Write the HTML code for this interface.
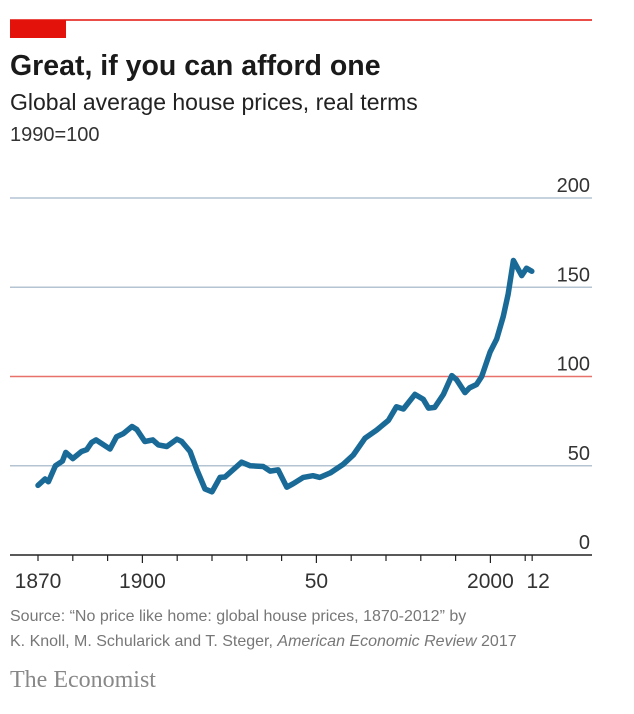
<!DOCTYPE html>
<html><head><meta charset="utf-8"><style>
body{margin:0;background:#fff;width:634px;height:714px;overflow:hidden}
svg{display:block}
.t{font-family:"Liberation Sans",sans-serif}
</style></head><body>
<svg width="634" height="714">
<line x1="10" y1="20" x2="592" y2="20" stroke="#e3120b" stroke-width="1.5"/>
<rect x="10" y="20" width="56" height="18" fill="#e3120b"/>
<text class="t" x="10" y="75" font-size="28.5" font-weight="bold" fill="#1a1a1a">Great, if you can afford one</text>
<text class="t" x="10" y="110" font-size="23" fill="#222">Global average house prices, real terms</text>
<text class="t" x="10" y="141" font-size="20" fill="#333">1990=100</text>
<g id="grid"></g>
<g id="xaxis"></g>
<path id="line" fill="none" stroke="#1a6a98" stroke-width="5.5" stroke-linejoin="round" stroke-linecap="round"/>
<text class="t" x="10" y="621" font-size="16" fill="#777">Source: “No price like home: global house prices, 1870-2012” by</text>
<text class="t" x="10" y="646" font-size="16" fill="#777">K. Knoll, M. Schularick and T. Steger, <tspan font-style="italic">American Economic Review</tspan> 2017</text>
<text x="10" y="687" font-family="Liberation Serif,serif" font-size="24" fill="#888">The Economist</text>
</svg>
<script>
const years=[1870,1872,1873,1875,1877,1878,1880,1882.5,1884,1885.4,1886.7,1890.7,1892.6,1894.5,1897,1898.4,1900.7,1903,1904.6,1907,1909.9,1911.3,1913.7,1915.6,1918,1920,1922.3,1923.7,1928.5,1931,1934.7,1936.7,1939,1941.5,1943.4,1946.2,1949,1951,1954,1957.7,1960.6,1964,1967.3,1970.7,1973,1975,1978.3,1980.7,1982.2,1984,1986.5,1988.9,1990.3,1992.7,1994,1996,1997.5,1999.9,2001.8,2003.7,2005.1,2006.6,2009,2010.4,2011.9];
const values=[39,42.6,41,50,52.6,57.5,54,58,59,63,64.5,59.4,66.3,68,72,70.3,63.6,64.5,61.7,60.8,64.9,63.6,58,48,37,35.4,43.5,43.7,52,50,49.6,47,47.7,38,40,43.5,44.4,43.5,46,50.8,56,65.5,70,75.4,83,81.8,90,87.3,82.3,82.7,90,100.5,98.2,91,93.6,95.5,100,113.7,121,133.7,146,165,156.5,160.7,159];
const yTicks=[0,50,100,150,200];
const xTicks=[1870,1880,1890,1900,1910,1920,1930,1940,1950,1960,1970,1980,1990,2000,2010,2012];
const xLabels=[[1870,"1870"],[1900,"1900"],[1950,"50"],[2000,"2000"],[2012,"12"]];
const X=y=>38+(y-1870)*3.48, Y=v=>555-v*1.785;
const NS="http://www.w3.org/2000/svg";
const grid=document.getElementById('grid'), xa=document.getElementById('xaxis');
function mk(tag,attrs,parent){const e=document.createElementNS(NS,tag);for(const k in attrs)e.setAttribute(k,attrs[k]);parent.appendChild(e);return e;}
yTicks.forEach(v=>{
  if(v>0){const l=mk('line',{x1:10,x2:592,y1:Y(v),y2:Y(v),stroke:v===100?'#e8716b':'#b4c4d2','stroke-width':1.5},grid);
  
  }
  const t=mk('text',{x:590,y:Y(v)-6,'text-anchor':'end','font-size':20,fill:'#333',class:'t'},grid);
  t.textContent=v;
  
  
});
const ax=mk('line',{x1:10,x2:592,y1:555,y2:555,stroke:'#222','stroke-width':1.5},xa);


xTicks.forEach(y=>{
  const l=mk('line',{x1:X(y),x2:X(y),y1:555,y2:y%50===0?563:561,stroke:'#222','stroke-width':1.2},xa);
  
  
});
xLabels.forEach(([y,s])=>{
  const t=mk('text',{x:X(y)+(y===2012?6:0),y:588,'text-anchor':'middle','font-size':21,fill:'#333',class:'t'},xa);
  t.textContent=s;
  
  
});
document.getElementById('line').setAttribute('d',years.map((y,i)=>(i?'L':'M')+X(y).toFixed(1)+' '+Y(values[i]).toFixed(1)).join(' '));
</script>
</body></html>
